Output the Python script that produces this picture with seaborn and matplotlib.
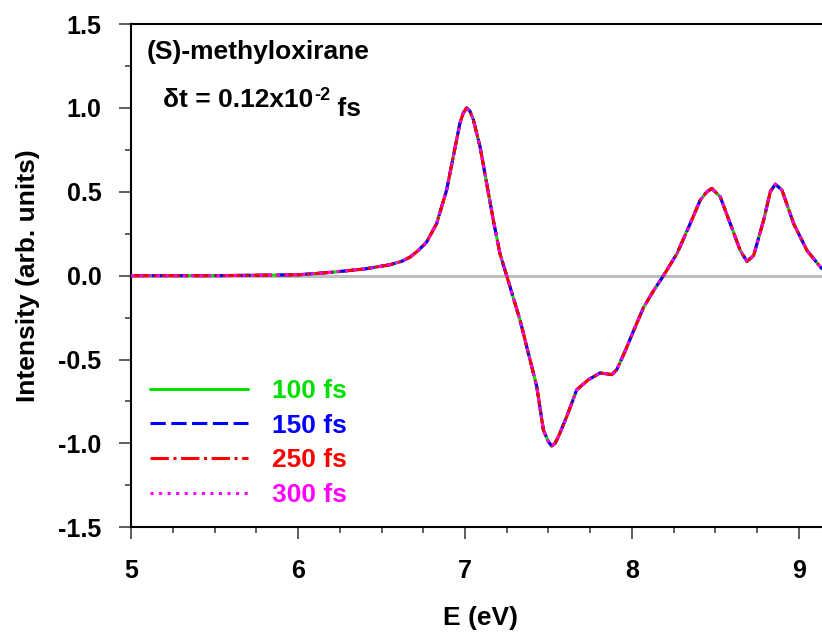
import matplotlib
matplotlib.use("Agg")
import matplotlib.pyplot as plt
import seaborn as sns
from matplotlib.ticker import MultipleLocator, FormatStrFormatter

# ---- data ----
energy = [5.0, 5.5, 6.0, 6.2, 6.4, 6.55, 6.62, 6.67, 6.72, 6.77, 6.83, 6.89,
          6.93, 6.97, 6.99, 7.01, 7.03, 7.05, 7.09, 7.13, 7.17, 7.21, 7.25,
          7.33, 7.43, 7.47, 7.50, 7.52, 7.54, 7.56, 7.61, 7.67, 7.74, 7.81,
          7.88, 7.91, 7.96, 8.01, 8.07, 8.13, 8.19, 8.27, 8.35, 8.41, 8.45,
          8.48, 8.53, 8.59, 8.65, 8.69, 8.73, 8.79, 8.83, 8.86, 8.90, 8.97,
          9.05, 9.14]
intensity = [0.0, 0.0, 0.005, 0.02, 0.04, 0.065, 0.085, 0.11, 0.15, 0.20,
             0.31, 0.51, 0.71, 0.91, 0.97, 1.0, 0.98, 0.93, 0.77, 0.55, 0.33,
             0.13, 0.0, -0.265, -0.66, -0.92, -0.99, -1.015, -1.0, -0.96,
             -0.84, -0.68, -0.62, -0.58, -0.59, -0.56, -0.45, -0.33, -0.19,
             -0.09, 0.0, 0.13, 0.31, 0.45, 0.50, 0.52, 0.47, 0.31, 0.15,
             0.085, 0.12, 0.33, 0.50, 0.545, 0.51, 0.31, 0.15, 0.04]
series_labels = ["100 fs", "150 fs", "250 fs", "300 fs"]
series_values = [intensity, intensity, intensity, intensity]
series_colors = ["#00e000", "#0000ff", "#ff0000", "#ff00ff"]
series_styles = ["-", (0, (5, 1.8)), (0, (6, 1.5, 1, 1.5)), (0, (1, 1.8))]
x_ticks = [5, 6, 7, 8, 9]
y_ticks = [-1.5, -1.0, -0.5, 0.0, 0.5, 1.0, 1.5]

sns.set_theme(style="ticks")
plt.rcParams["font.family"] = ["Liberation Sans", "DejaVu Sans"]
plt.rcParams["font.weight"] = "bold"
plt.rcParams["axes.unicode_minus"] = False
for key in ["text.color", "axes.labelcolor", "xtick.color", "ytick.color",
            "axes.edgecolor"]:
    plt.rcParams[key] = "black"

fig = plt.figure(figsize=(8.22, 6.37), dpi=100)
ax = fig.add_axes([131.3 / 822, (637 - 527.3) / 637, 1 - 131.3 / 822,
                   (527.3 - 24) / 637])

ax.axhline(0, color="#bdbdbd", lw=2.2, zorder=1)

for lab, vals, col, ls in zip(series_labels, series_values, series_colors,
                              series_styles):
    sns.lineplot(x=energy, y=vals, ax=ax, color=col, linestyle=ls, lw=2.2,
                 label=lab, sort=False, estimator=None, zorder=3)

ax.set_xlim(5, 9.14)
ax.set_ylim(-1.5, 1.5)
ax.xaxis.set_minor_locator(MultipleLocator(0.25))
ax.yaxis.set_minor_locator(MultipleLocator(0.25))
ax.set_xticks(x_ticks)
ax.set_yticks(y_ticks)
ax.yaxis.set_major_formatter(FormatStrFormatter("%.1f"))
ax.xaxis.set_major_formatter(FormatStrFormatter("%d"))

ax.tick_params(axis="both", which="major", direction="out", length=8.6,
               width=1.1, color="#333333", labelsize=18)
ax.tick_params(axis="both", which="minor", direction="out", length=4.5,
               width=1.1, color="#333333")
ax.tick_params(axis="y", which="major", pad=13)
ax.tick_params(axis="x", which="major", pad=14)
for lbl in ax.get_xticklabels() + ax.get_yticklabels():
    lbl.set_fontweight("bold")

for side in ["left", "bottom", "top"]:
    ax.spines[side].set_linewidth(1.5)
    ax.spines[side].set_color("black")
ax.spines["right"].set_visible(False)

ax.set_xlabel("E (eV)", fontsize=19, fontweight="bold")
ax.set_ylabel("Intensity (arb. units)", fontsize=19, fontweight="bold")
ax.xaxis.set_label_coords(0.506, -0.157)
ax.yaxis.set_label_coords(-0.132, 0.5)

ax.text(0.0223, 0.930, "(S)-methyloxirane", transform=ax.transAxes,
        fontsize=19, fontweight="bold", va="baseline", ha="left")
t1 = ax.text(0.0459, 0.8346, "\u03b4t = 0.12x10", transform=ax.transAxes,
             fontsize=19, fontweight="bold", va="baseline", ha="left")
t2 = ax.annotate("-2", xy=(1, 0), xycoords=t1, xytext=(0.5, 8.5),
                 textcoords="offset points", fontsize=13, fontweight="bold",
                 va="baseline", ha="left")
ax.annotate(" fs", xy=(1, 0), xycoords=t2, xytext=(0, -8.5),
            textcoords="offset points", fontsize=19, fontweight="bold",
            va="baseline", ha="left")

leg = ax.legend(loc="upper left", bbox_to_anchor=(0.027, 0.2945),
                frameon=False, borderpad=0, borderaxespad=0, handlelength=3.7,
                handletextpad=0.93, labelspacing=0.40,
                prop={"weight": "bold", "size": 19}, labelcolor="linecolor")

fig.savefig("out.png", dpi=100)
